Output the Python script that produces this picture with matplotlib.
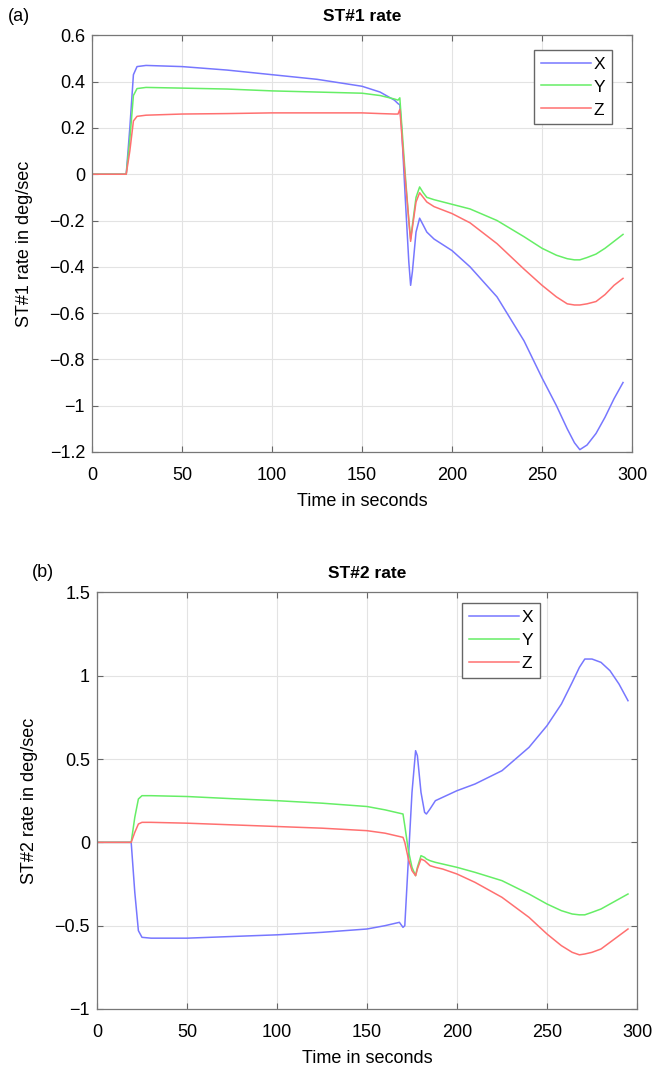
import numpy as np
import matplotlib
matplotlib.use("Agg")
import matplotlib.pyplot as plt

# ST#1 rate (deg/sec)
t1 = [0, 10, 19, 21, 23, 25, 30, 50, 75, 100, 125, 150, 160, 168, 170, 171, 172, 174, 176, 177,
      178, 180, 182, 184, 186, 190, 200, 210, 225, 240, 250, 258, 264, 268, 271, 275, 280, 285, 290, 295]
x1 = [0, 0, 0, 0.2, 0.43, 0.465, 0.47, 0.465, 0.45, 0.43, 0.41, 0.38, 0.355, 0.32, 0.305, 0.30, 0.2, -0.1, -0.38, -0.48,
      -0.42, -0.25, -0.19, -0.22, -0.25, -0.28, -0.33, -0.4, -0.53, -0.72, -0.88, -1.0, -1.1, -1.16, -1.19, -1.17, -1.12, -1.05, -0.97, -0.9]
y1 = [0, 0, 0, 0.15, 0.34, 0.37, 0.375, 0.372, 0.368, 0.36, 0.355, 0.35, 0.34, 0.325, 0.32, 0.33, 0.22, 0.0, -0.2, -0.28,
      -0.22, -0.1, -0.055, -0.08, -0.1, -0.11, -0.13, -0.15, -0.2, -0.27, -0.32, -0.35, -0.365, -0.37, -0.37, -0.36, -0.345, -0.32, -0.29, -0.26]
z1 = [0, 0, 0, 0.1, 0.23, 0.25, 0.255, 0.26, 0.262, 0.265, 0.265, 0.265, 0.262, 0.26, 0.26, 0.28, 0.18, -0.02, -0.2, -0.29,
      -0.23, -0.12, -0.08, -0.1, -0.12, -0.14, -0.17, -0.21, -0.3, -0.41, -0.48, -0.53, -0.56, -0.565, -0.565, -0.56, -0.55, -0.52, -0.48, -0.45]

# ST#2 rate (deg/sec)
t2 = [0, 10, 19, 21, 23, 25, 30, 50, 75, 100, 125, 150, 160, 168, 170, 171, 173, 175, 177, 178,
      180, 182, 183, 185, 188, 192, 200, 210, 225, 240, 250, 258, 264, 268, 271, 275, 280, 285, 290, 295]
x2 = [0, 0, 0, -0.3, -0.53, -0.57, -0.575, -0.575, -0.565, -0.555, -0.54, -0.52, -0.5, -0.48, -0.51, -0.5, -0.1, 0.3, 0.55, 0.52,
      0.3, 0.18, 0.17, 0.2, 0.25, 0.27, 0.31, 0.35, 0.43, 0.57, 0.7, 0.83, 0.96, 1.05, 1.1, 1.1, 1.08, 1.03, 0.95, 0.85]
y2 = [0, 0, 0, 0.15, 0.26, 0.28, 0.28, 0.275, 0.262, 0.25, 0.235, 0.215, 0.195, 0.175, 0.17, 0.1, -0.05, -0.15, -0.2, -0.15,
      -0.08, -0.09, -0.1, -0.11, -0.12, -0.13, -0.15, -0.18, -0.23, -0.31, -0.37, -0.41, -0.43, -0.435, -0.435, -0.42, -0.4, -0.37, -0.34, -0.31]
z2 = [0, 0, 0, 0.06, 0.11, 0.12, 0.12, 0.115, 0.105, 0.095, 0.085, 0.07, 0.055, 0.035, 0.03, 0.0, -0.1, -0.17, -0.2, -0.16,
      -0.1, -0.11, -0.12, -0.14, -0.15, -0.16, -0.19, -0.24, -0.33, -0.45, -0.55, -0.62, -0.66, -0.675, -0.67, -0.66, -0.64, -0.6, -0.56, -0.52]

colors = {"X": "#7777ff", "Y": "#66ee66", "Z": "#ff7070"}

plt.rcParams['font.family'] = ['Liberation Sans', 'DejaVu Sans']

fig = plt.figure(figsize=(6.54, 10.71), dpi=100)
ax1 = fig.add_axes([0.1407, 0.578, 0.8257, 0.389])
ax2 = fig.add_axes([0.1483, 0.0579, 0.8257, 0.389])


def style(ax, title, ylabel, yticks, ylim):
    ax.set_xlim(0, 300)
    ax.set_ylim(*ylim)
    ax.set_xticks(np.arange(0, 301, 50))
    ax.set_yticks(yticks)
    ax.set_yticklabels([("%g" % v).replace("-", "\u2212") for v in yticks])
    ax.grid(True, color="#e3e3e3", linewidth=0.8)
    ax.set_axisbelow(True)
    ax.tick_params(direction="in", top=True, right=True, labelsize=13,
                   color="#666666", length=4, pad=5)
    ax.tick_params(axis="x", pad=11)
    for s in ax.spines.values():
        s.set_color("#777777")
        s.set_linewidth(0.9)
    ax.set_title(title, fontsize=12.5, fontweight="bold", pad=10)
    ax.set_xlabel("Time in seconds", fontsize=13, labelpad=6)
    ax.set_ylabel(ylabel, fontsize=13, labelpad=12)


ax1.plot(t1, x1, color=colors["X"], lw=1.1, label="X")
ax1.plot(t1, y1, color=colors["Y"], lw=1.1, label="Y")
ax1.plot(t1, z1, color=colors["Z"], lw=1.1, label="Z")
yt1 = np.round(np.arange(-1.2, 0.61, 0.2), 1) + 0.0
style(ax1, "ST#1 rate", "ST#1 rate in deg/sec", yt1, (-1.2, 0.6))

ax2.plot(t2, x2, color=colors["X"], lw=1.1, label="X")
ax2.plot(t2, y2, color=colors["Y"], lw=1.1, label="Y")
ax2.plot(t2, z2, color=colors["Z"], lw=1.1, label="Z")
yt2 = np.arange(-1, 1.51, 0.5)
style(ax2, "ST#2 rate", "ST#2 rate in deg/sec", yt2, (-1, 1.5))

for ax, loc in [(ax1, (0.8185, 0.966)), (ax2, (0.6759, 0.974))]:
    leg = ax.legend(loc="upper left", bbox_to_anchor=loc, fontsize=12.5, handlelength=2.9,
                    handletextpad=0.15, borderpad=0.4, labelspacing=0.45, borderaxespad=0,
                    fancybox=False, framealpha=1)
    leg.get_frame().set_edgecolor("#666666")
    leg.get_frame().set_linewidth(1.0)

fig.text(0.012, 0.985, "(a)", fontsize=13, va="center")
fig.text(0.048, 0.465, "(b)", fontsize=13, va="center")

fig.savefig("out.png", dpi=100)
